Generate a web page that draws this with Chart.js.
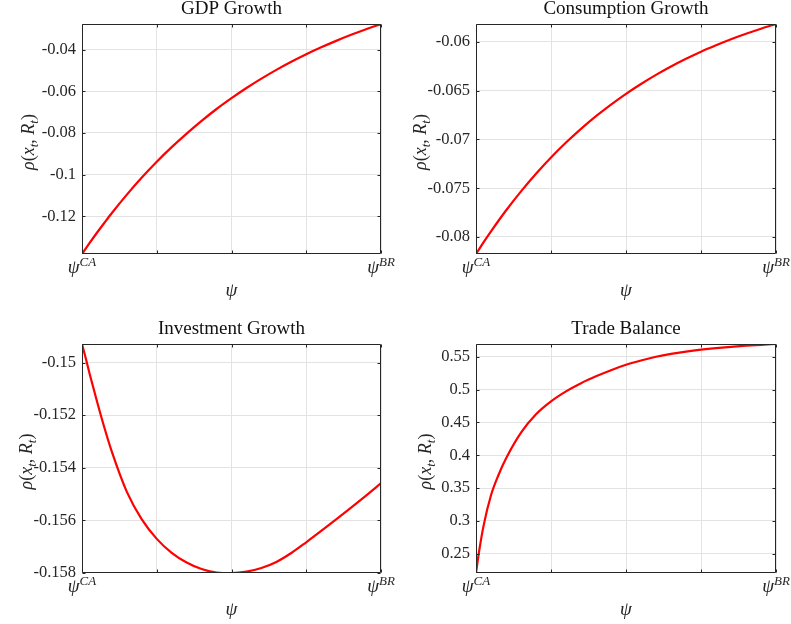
<!DOCTYPE html>
<html>
<head>
<meta charset="utf-8">
<script src="https://cdn.jsdelivr.net/npm/chart.js@4.4.1/dist/chart.umd.min.js"></script>
<style>
    body { margin: 0; background: #fff; }
    #wrap { position: relative; width: 791px; height: 624px; }
    canvas { position: absolute; }
</style>
</head>
<body>
<div id="wrap">
    <canvas id="gdp" width="395" height="310" style="left:0;top:0"></canvas>
    <canvas id="cons" width="396" height="310" style="left:395px;top:0"></canvas>
    <canvas id="inv" width="395" height="314" style="left:0;top:310px"></canvas>
    <canvas id="tb" width="396" height="314" style="left:395px;top:310px"></canvas>
</div>
<script>
// ================= DATA =================
const psi = [0, 0.01, 0.025, 0.05, 0.075, 0.1, 0.15, 0.2, 0.25, 0.3, 0.35, 0.4, 0.45, 0.5,
    0.55, 0.6, 0.65, 0.7, 0.75, 0.8, 0.85, 0.9, 0.95, 1];

const gdpGrowth = [-0.1381, -0.1360, -0.1329, -0.1279, -0.1231, -0.1184, -0.1096, -0.1014,
    -0.0938, -0.0868, -0.0803, -0.0742, -0.0685, -0.0633, -0.0584, -0.0539, -0.0497,
    -0.0458, -0.0422, -0.0389, -0.0358, -0.0329, -0.0302, -0.0277];

const consumptionGrowth = [-0.08175, -0.08127, -0.08056, -0.07943, -0.07834, -0.07729,
    -0.07533, -0.07352, -0.07185, -0.07032, -0.06891, -0.06761, -0.06642, -0.06532,
    -0.06431, -0.06338, -0.06252, -0.06173, -0.06100, -0.06034, -0.05972, -0.05916,
    -0.05864, -0.05816];

const investmentGrowth = [-0.14929, -0.14972, -0.15040, -0.15147, -0.15248, -0.15340,
    -0.15492, -0.15597, -0.15671, -0.15724, -0.15761, -0.15786, -0.15799, -0.15801,
    -0.15796, -0.15782, -0.15759, -0.15725, -0.15684, -0.15641, -0.15597, -0.15552,
    -0.15506, -0.15459];

const tradeBalance = [0.2205, 0.2525, 0.2920, 0.3390, 0.3700, 0.3950, 0.4345, 0.4625,
    0.4822, 0.4975, 0.5100, 0.5205, 0.5298, 0.5380, 0.5446, 0.5502, 0.5546, 0.5581,
    0.5610, 0.5634, 0.5654, 0.5671, 0.5685, 0.5697];

const gdpTicks = ["-0.12", "-0.1", "-0.08", "-0.06", "-0.04"];
const consumptionTicks = ["-0.08", "-0.075", "-0.07", "-0.065", "-0.06"];
const investmentTicks = ["-0.158", "-0.156", "-0.154", "-0.152", "-0.15"];
const tradeTicks = ["0.25", "0.3", "0.35", "0.4", "0.45", "0.5", "0.55"];

const xGrid = [0, 0.25, 0.5, 0.75, 1];
const xLabelPos = [0, 1];
const xLabelSup = ["CA", "BR"];

// ================= STYLE =================
const serif = '"Liberation Serif", "Times New Roman", serif';
const axisColor = "#262626";
const gridColor = "#e3e3e3";

const panels = [
    { id: "gdp", title: "GDP Growth", values: gdpGrowth, ticks: gdpTicks, left: 82, top: 24, right: 14, bottom: 56, yGap: 48 },
    { id: "cons", title: "Consumption Growth", values: consumptionGrowth, ticks: consumptionTicks, left: 81, top: 24, right: 15, bottom: 56, yGap: 50 },
    { id: "inv", title: "Investment Growth", values: investmentGrowth, ticks: investmentTicks, left: 82, top: 34, right: 14, bottom: 51, yGap: 50 },
    { id: "tb", title: "Trade Balance", values: tradeBalance, ticks: tradeTicks, left: 81, top: 34, right: 15, bottom: 51, yGap: 45 }
];

// parts: [text, kind]  kind: i italic, r roman, b subscript, p superscript
function drawMath(ctx, parts, x, y, size) {
    const small = Math.round(size * 0.7);
    const fontOf = k => (k === "r" ? "" : "italic ") + (k === "b" || k === "p" ? small : size) + "px " + serif;
    let w = 0;
    parts.forEach(([t, k]) => { ctx.font = fontOf(k); w += ctx.measureText(t).width; });
    let cx = x - w / 2;
    ctx.textAlign = "left";
    ctx.textBaseline = "alphabetic";
    parts.forEach(([t, k]) => {
        ctx.font = fontOf(k);
        const dy = k === "b" ? size * 0.22 : k === "p" ? -size * 0.38 : 0;
        ctx.fillText(t, cx, y + dy);
        cx += ctx.measureText(t).width;
    });
}

const yTitle = [["ρ", "i"], ["(", "r"], ["x", "i"], ["t", "b"], [", ", "r"], ["R", "i"], ["t", "b"], [")", "r"]];

// box, inside ticks, titles and math labels like MATLAB
const matlabAxes = {
    id: "matlabAxes",
    afterDraw(chart, args, opts) {
        const p = opts.panel;
        const { ctx, chartArea: a, scales } = chart;
        const L = Math.round(a.left) + 0.5, R = Math.round(a.right) - 0.5;
        const T = Math.round(a.top) + 0.5, B = Math.round(a.bottom) - 0.5;
        ctx.save();
        ctx.strokeStyle = axisColor;
        ctx.lineWidth = 1;
        ctx.beginPath();
        ctx.rect(L, T, R - L, B - T);
        scales.y.ticks.forEach(t => {
            const y = Math.round(scales.y.getPixelForValue(t.value)) + 0.5;
            ctx.moveTo(L, y); ctx.lineTo(L + 3, y);
            ctx.moveTo(R, y); ctx.lineTo(R - 3, y);
        });
        xGrid.forEach(v => {
            const x = Math.round(scales.x.getPixelForValue(v)) + 0.5;
            ctx.moveTo(x, T); ctx.lineTo(x, T + 3);
            ctx.moveTo(x, B); ctx.lineTo(x, B - 3);
        });
        ctx.stroke();

        ctx.fillStyle = "#111";
        ctx.font = "19px " + serif;
        ctx.textAlign = "center";
        ctx.textBaseline = "alphabetic";
        ctx.fillText(p.title, (a.left + a.right) / 2, a.top - 10);

        ctx.fillStyle = axisColor;
        xLabelPos.forEach((v, i) => {
            drawMath(ctx, [["ψ", "i"], [xLabelSup[i], "p"]], scales.x.getPixelForValue(v), a.bottom + 19, 19);
        });
        drawMath(ctx, [["ψ", "i"]], (a.left + a.right) / 2, a.bottom + 42, 19);

        ctx.translate(a.left - p.yGap, (a.top + a.bottom) / 2 + 3);
        ctx.rotate(-Math.PI / 2);
        drawMath(ctx, yTitle, 0, 0, 18);
        ctx.restore();
    }
};

// ================= CHARTS =================
panels.forEach(p => {
    const tickVals = p.ticks.map(Number);
    new Chart(document.getElementById(p.id), {
        type: "line",
        data: {
            datasets: [{
                data: psi.map((x, i) => ({ x, y: p.values[i] })),
                borderColor: "#ff0000",
                borderWidth: 2.2,
                pointRadius: 0,
                cubicInterpolationMode: "monotone",
                fill: false
            }]
        },
        options: {
            responsive: false,
            animation: false,
            devicePixelRatio: 1,
            layout: { padding: { top: p.top, right: p.right, left: 0, bottom: 0 } },
            plugins: {
                legend: { display: false },
                tooltip: { enabled: false },
                matlabAxes: { panel: p }
            },
            scales: {
                x: {
                    type: "linear",
                    min: 0,
                    max: 1,
                    bounds: "data",
                    afterBuildTicks: s => { s.ticks = xGrid.map(v => ({ value: v })); },
                    afterFit: s => { s.height = p.bottom; },
                    ticks: { display: false },
                    grid: { color: gridColor, drawTicks: false },
                    border: { display: false }
                },
                y: {
                    min: Math.min(...p.values),
                    max: Math.max(...p.values),
                    bounds: "data",
                    afterBuildTicks: s => { s.ticks = tickVals.map(v => ({ value: v })); },
                    afterFit: s => { s.width = p.left; },
                    ticks: {
                        callback: (v, i) => p.ticks[i],
                        font: { family: serif, size: 16.5 },
                        color: axisColor,
                        padding: 6
                    },
                    grid: { color: gridColor, drawTicks: false },
                    border: { display: false }
                }
            }
        },
        plugins: [matlabAxes]
    });
});
</script>
</body>
</html>
